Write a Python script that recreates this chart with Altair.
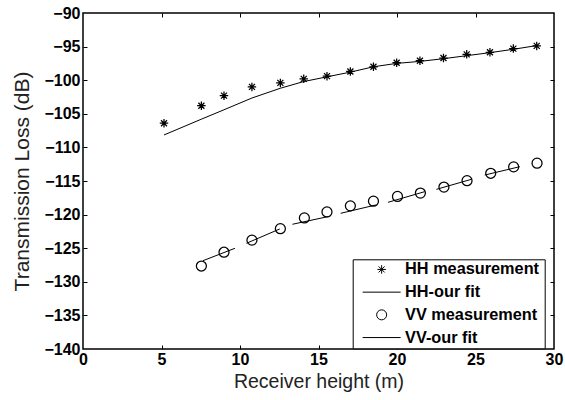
import altair as alt
import pandas as pd

# ---- data ----
heights = [5.16, 7.54, 8.98, 10.76, 12.57, 14.06, 15.54, 17.03, 18.50, 19.98,
           21.46, 22.96, 24.44, 25.92, 27.41, 28.90]
hh_meas = [-106.4, -103.8, -102.3, -101.0, -100.4, -99.8, -99.4, -98.7, -98.0,
           -97.4, -97.1, -96.7, -96.15, -95.85, -95.3, -94.9]
hh_fit = [-108.15, -105.8, -104.4, -102.65, -101.2, -100.2, -99.5, -98.8, -98.0,
          -97.5, -97.2, -96.8, -96.35, -95.9, -95.4, -94.85]
vv_heights = [7.54, 8.98, 10.76, 12.57, 14.10, 15.54, 17.03, 18.50, 20.03, 21.49,
              22.99, 24.46, 25.97, 27.43, 28.92]
vv_meas = [-127.65, -125.6, -123.8, -122.1, -120.5, -119.6, -118.7, -118.0, -117.3,
           -116.8, -115.9, -114.95, -113.85, -112.9, -112.35]
vv_fit_x = [7.64, 9.68, 10.41, 12.53, 13.34, 15.59, 16.41, 18.64, 19.43, 21.76,
            22.51, 24.74, 25.59, 27.82]
vv_fit_y = [-126.86, -125.01, -124.27, -122.14, -121.44, -120.31, -119.81, -118.57,
            -118.17, -116.59, -116.24, -114.75, -114.11, -112.87]
vv_fit_seg = [1, 1, 2, 2, 3, 3, 4, 4, 5, 5, 6, 6, 7, 7]
series_names = ["HH measurement", "HH-our fit", "VV measurement", "VV-our fit"]
x_labels = [0, 5, 10, 15, 20, 25, 30]
x_ticks = [5, 10, 15, 20, 25]
y_labels = [-90, -95, -100, -105, -110, -115, -120, -125, -130, -135, -140]
y_ticks = [-95, -100, -105, -110, -115, -120, -125, -130, -135]

rows = []
for x, y in zip(heights, hh_meas):
    rows.append({"x": x, "y": y, "series": series_names[0], "seg": 0})
for x, y in zip(heights, hh_fit):
    rows.append({"x": x, "y": y, "series": series_names[1], "seg": 0})
for x, y in zip(vv_heights, vv_meas):
    rows.append({"x": x, "y": y, "series": series_names[2], "seg": 0})
for x, y, s in zip(vv_fit_x, vv_fit_y, vv_fit_seg):
    rows.append({"x": x, "y": y, "series": series_names[3], "seg": s})
df = pd.DataFrame(rows)

FONT = "Liberation Sans"
xs = alt.Scale(domain=[0, 30], nice=False, zero=False)
ys = alt.Scale(domain=[-140, -90], nice=False, zero=False)

star = "M-0.85,0L0.85,0M0,-0.85L0,0.85M-0.6,-0.6L0.6,0.6M-0.6,0.6L0.6,-0.6"
line_sym = "M-3.8,0L3.8,0"

label_x_axis = alt.Axis(orient="bottom", values=x_labels, ticks=False, tickSize=0,
                        domain=False, grid=False, labelFlush=False,
                        labelFont=FONT, labelFontSize=16, labelFontWeight="bold",
                        labelColor="black", labelPadding=2,
                        title="Receiver height (m)", titleFont=FONT, titleFontSize=19.5,
                        titleFontWeight="normal", titleColor="#222", titlePadding=5)
label_y_axis = alt.Axis(orient="left", values=y_labels, ticks=False, tickSize=0,
                        domain=False, grid=False, labelFlush=False,
                        labelFont=FONT, labelFontSize=16, labelFontWeight="bold",
                        labelColor="black", labelPadding=3,
                        title="Transmission Loss (dB)", titleFont=FONT, titleFontSize=21,
                        titleFontWeight="normal", titleColor="#222", titlePadding=11)


def tick_axis(orient, vals):
    return alt.Axis(orient=orient, values=vals, ticks=True, tickSize=4, offset=-4,
                    tickColor="black", tickWidth=1, labels=False, domain=False,
                    grid=False, title=None)


legend = alt.Legend(title=" ", titleOrient="right", titlePadding=4,
                    orient="none", legendX=269.7, legendY=246.3,
                    strokeColor="black", fillColor="white", padding=2,
                    rowPadding=5.7, symbolOffset=18.8, labelOffset=15.3,
                    labelFont=FONT, labelFontSize=16.3, labelFontWeight="bold",
                    labelColor="black", symbolStrokeColor="black",
                    symbolStrokeWidth=1, symbolSize=100,
                    symbolFillColor="transparent")

pts = alt.Chart(df).transform_filter(
    alt.FieldOneOfPredicate(field="series", oneOf=[series_names[0], series_names[2]])
).mark_point(filled=False, color="black", strokeWidth=1.25, size=100, opacity=1).encode(
    x=alt.X("x:Q", scale=xs, axis=label_x_axis),
    y=alt.Y("y:Q", scale=ys, axis=label_y_axis),
    shape=alt.Shape("series:N",
                    scale=alt.Scale(domain=series_names,
                                    range=[star, line_sym, "circle", line_sym]),
                    legend=legend),
)

hh_line = alt.Chart(df).transform_filter(
    alt.FieldEqualPredicate(field="series", equal=series_names[1])
).mark_line(color="black", strokeWidth=1).encode(
    x=alt.X("x:Q", scale=xs, axis=tick_axis("bottom", x_ticks)),
    y=alt.Y("y:Q", scale=ys, axis=tick_axis("left", y_ticks)),
)

vv_line = alt.Chart(df).transform_filter(
    alt.FieldEqualPredicate(field="series", equal=series_names[3])
).mark_line(color="black", strokeWidth=1).encode(
    x=alt.X("x:Q", scale=xs, axis=tick_axis("top", x_ticks)),
    y=alt.Y("y:Q", scale=ys, axis=tick_axis("right", y_ticks)),
    detail="seg:N",
)

chart = alt.layer(hh_line, vv_line, pts).resolve_axis(
    x="independent", y="independent"
).properties(
    width=471, height=336,
    autosize=alt.AutoSizeParams(type="none"),
    padding={"left": 83, "top": 13, "right": 11, "bottom": 51},
    background="white",
).configure_view(stroke="black", strokeWidth=1.5)

chart.save("out.html", embed_options={"renderer": "svg", "actions": False})
